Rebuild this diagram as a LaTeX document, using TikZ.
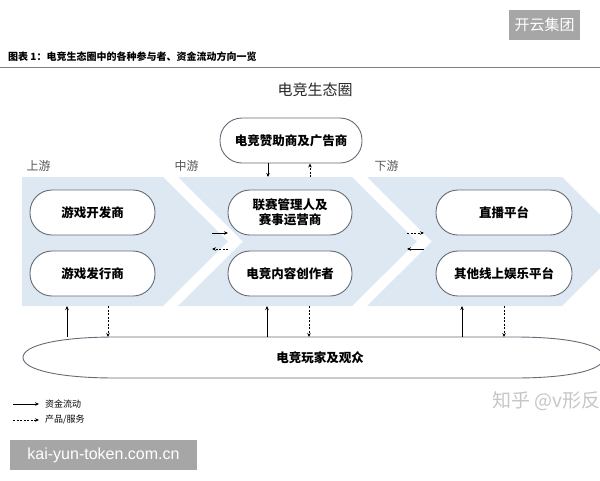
\documentclass[tikz,border=0pt]{standalone}
\usepackage{fontspec}
\setmainfont{Noto Sans CJK SC}
\newfontfamily\wmfont{Liberation Sans}
\usetikzlibrary{arrows.meta}
\definecolor{bandc}{RGB}{222,232,243}
\definecolor{boxline}{RGB}{100,108,118}
\definecolor{labc}{RGB}{85,85,85}
\definecolor{wmbox}{RGB}{166,166,166}
\definecolor{wmtext}{RGB}{198,198,198}
\begin{document}
\begin{tikzpicture}[x=1pt,y=-1pt,
  pill/.style={draw=boxline, line width=0.9pt, fill=white, rounded corners=22pt,
    minimum width=#1, minimum height=45pt, inner sep=0pt, align=center,
    font=\fontsize{12.5}{15}\selectfont\bfseries},
  money/.style={-{Stealth[length=4pt,width=3.5pt]}, line width=1pt},
  goods/.style={-{Stealth[length=4pt,width=3.5pt]}, line width=0.8pt, dash pattern=on 2pt off 1.5pt},
  seclab/.style={anchor=west, text=labc, font=\fontsize{12}{14}\selectfont},
  wmark/.style={fill=wmbox, text=white, inner sep=0pt}]
\useasboundingbox (0,0) rectangle (600,480);
\clip (0,0) rectangle (600,480);
% watermark top
\node[wmark, minimum width=71pt, minimum height=30pt, font=\fontsize{15}{18}\selectfont] (wm1) at (544.5,25) {开云集团};
% title
\node[anchor=west, inner sep=0pt, font=\fontsize{10}{12}\selectfont\bfseries] (title) at (8,57) {图表 1：电竞生态圈中的各种参与者、资金流动方向一览};
\draw[line width=1pt, color=gray] (0,67) -- (600,67);
\node[font=\fontsize{15}{18}\selectfont, text=black!85] (head) at (315,90) {电竞生态圈};
% chevrons
\fill[bandc] (22,177) -- (163,177) -- (228,241.5) -- (163,306) -- (22,306) -- cycle;
\fill[bandc] (178,177) -- (352,177) -- (417,241.5) -- (352,306) -- (178,306) -- (243,241.5) -- cycle;
\fill[bandc] (367,177) -- (562,177) -- (627,241.5) -- (562,306) -- (367,306) -- (432,241.5) -- cycle;
% section labels
\node[seclab] (up) at (23,166) {上游};
\node[seclab] (mid) at (171,166) {中游};
\node[seclab] (down) at (371,166) {下游};
% boxes
\node[pill=142pt] (spon) at (291,140.5) {电竞赞助商及广告商};
\node[pill=125pt] (dev) at (92.5,212.5) {游戏开发商};
\node[pill=125pt] (pub) at (92.5,273.5) {游戏发行商};
\node[pill=124pt] (league) at (290,212.5) {联赛管理人及\\赛事运营商};
\node[pill=124pt] (creator) at (290,273.5) {电竞内容创作者};
\node[pill=136pt] (live) at (504,212.5) {直播平台};
\node[pill=136pt] (other) at (504,273.5) {其他线上娱乐平台};
% players
\draw[draw=boxline, line width=0.9pt, fill=white]
  (23,357.5) .. controls (23,345) and (60,337) .. (115,337) -- (515,337)
  .. controls (570,337) and (604,345) .. (604,357.5)
  .. controls (604,370) and (570,378) .. (515,378) -- (115,378)
  .. controls (60,378) and (23,370) .. (23,357.5) -- cycle;
\node[font=\fontsize{12.5}{15}\selectfont\bfseries] (players) at (320,358) {电竞玩家及观众};
% sponsor arrows
\coordinate (s1) at (268,177);
\coordinate (s2) at (310,177);
\draw[money] (spon.south -| s1) -- (s1);
\draw[goods] (s2) -- (spon.south -| s2);
% gap arrows
\coordinate (g1a) at (212,233); \coordinate (g1b) at (228,233);
\coordinate (g2a) at (228,249); \coordinate (g2b) at (212,249);
\draw[money] (g1a) -- (g1b);
\draw[goods] (g2a) -- (g2b);
\coordinate (g3a) at (407,233); \coordinate (g3b) at (424,233);
\coordinate (g4a) at (424,249); \coordinate (g4b) at (407,249);
\draw[goods] (g3a) -- (g3b);
\draw[money] (g4a) -- (g4b);
% bottom arrows
\foreach \xs/\xd [count=\i] in {67/108, 267/309, 462/504} {
  \coordinate (bt\i) at (\xs,306); \coordinate (et\i) at (\xs,337);
  \coordinate (bd\i) at (\xd,306); \coordinate (ed\i) at (\xd,337);
  \draw[money] (et\i) -- (bt\i);
  \draw[goods] (bd\i) -- (ed\i);
}
% legend
\coordinate (l1a) at (13,404); \coordinate (l1b) at (39,404);
\coordinate (l2a) at (13,420); \coordinate (l2b) at (39,420);
\draw[money, line width=0.8pt] (l1a) -- (l1b);
\draw[goods, line width=0.7pt] (l2a) -- (l2b);
\node[anchor=west, inner sep=0pt, font=\fontsize{9}{11}\selectfont] (leg1) at (45,404) {资金流动};
\node[anchor=west, inner sep=0pt, font=\fontsize{9}{11}\selectfont] (leg2) at (45,420) {产品/服务};
% watermarks
\node[anchor=west, inner sep=0pt, text=wmtext, font=\fontsize{19}{22}\selectfont] (zh) at (492,401) {知乎 @v形反};
\node[wmark, minimum width=187pt, minimum height=30pt, font=\wmfont\fontsize{16}{19}\selectfont] (wm2) at (103.5,455) {kai-yun-token.com.cn};
\end{tikzpicture}
\end{document}
